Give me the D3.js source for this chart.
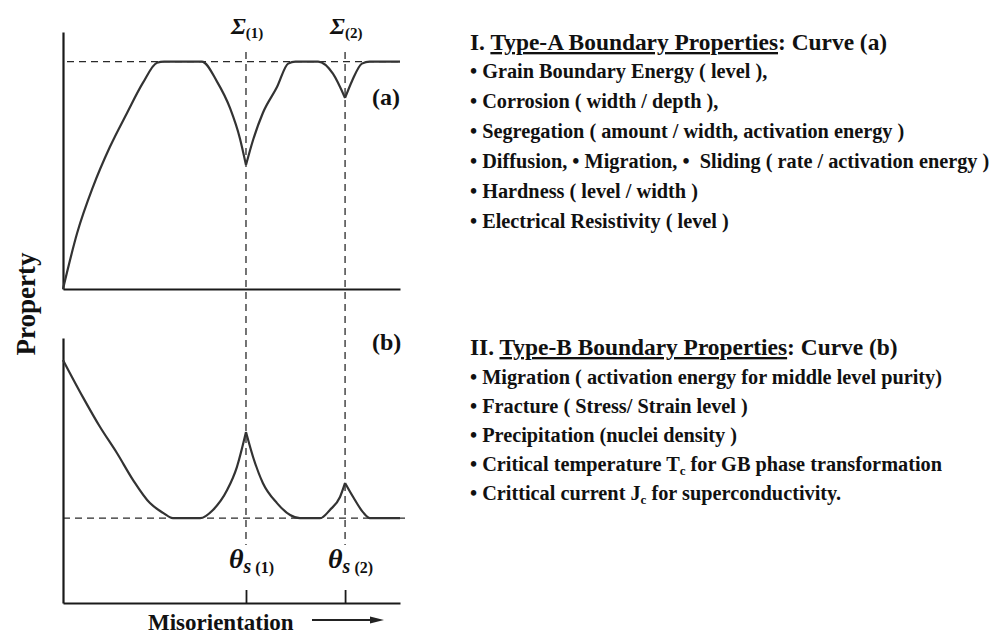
<!DOCTYPE html>
<html>
<head>
<meta charset="utf-8">
<script src="https://cdn.jsdelivr.net/npm/d3@7/dist/d3.min.js"></script>
<style>
  html, body { margin: 0; padding: 0; background: #fff; }
  svg { display: block; }
  text { font-family: "Liberation Serif", "Times New Roman", serif; font-weight: bold; fill: #111; white-space: pre; }
</style>
</head>
<body>
<script>
// ---------------- DATA ----------------
// Misorientation (arbitrary units 0..100), property (arbitrary units)
const sigmaPositions = [54.3, 83.7];
const sigmaLabels = ["(1)", "(2)"];
const thetaLabels = ["(1)", "(2)"];

// Curve (a): Type-A boundary property vs misorientation (cusps at sigma positions)
const curveAx = [0, 4.2, 8.9, 13.9, 19.0, 23.7, 27.9, 30, 41.2, 45.7, 49.6, 52.5, 54.3,
                 56.4, 59.3, 63.5, 66.8, 69, 75.7, 80.1, 83.7, 85.8, 88.7, 91, 100];
const curveAy = [0, 24.6, 44.9, 62.4, 77.4, 90.6, 99.5, 100, 100, 91.2, 79.4, 66.2, 54.5,
                 65.5, 77.4, 88.8, 99.1, 100, 100, 94.7, 84, 91.6, 99.1, 100, 100];
const levelA = 100;

// Curve (b): Type-B boundary property vs misorientation (peaks at sigma positions)
const curveBx = [0, 5.9, 11.0, 16.0, 20.8, 25.8, 29.7, 32.6, 40.7, 44.5, 48.7, 51.6, 54.3,
                 56.4, 59.3, 63.5, 67.4, 70.3, 76.3, 79.2, 82.2, 83.7, 86.1, 89.0, 91.1, 100];
const curveBy = [91.7, 77.7, 66.4, 56.6, 46.4, 37.7, 34.0, 32, 32, 35.1, 42.6, 51.3, 64.5,
                 55.1, 45.3, 37.7, 33.2, 32, 32, 35.1, 40, 45.3, 40, 34.3, 32, 32];
const levelB = 32;

const headerA = ["I. ", "Type-A Boundary Properties", ": Curve (a)"];
const itemsA = [
  "• Grain Boundary Energy ( level ),",
  "• Corrosion ( width / depth ),",
  "• Segregation ( amount / width, activation energy )",
  "• Diffusion, • Migration, •  Sliding ( rate / activation energy )",
  "• Hardness ( level / width )",
  "• Electrical Resistivity ( level )"
];
const headerB = ["II. ", "Type-B Boundary Properties", ": Curve (b)"];
const itemsB = [
  ["• Migration ( activation energy for middle level purity)"],
  ["• Fracture ( Stress/ Strain level )"],
  ["• Precipitation (nuclei density )"],
  ["• Critical temperature T", "c", " for GB phase transformation"],
  ["• Crittical current J", "c", " for superconductivity."]
];

// ---------------- DRAW ----------------
const W = 1001, H = 636;
const svg = d3.select("body").append("svg").attr("width", W).attr("height", H);

const x = d3.scaleLinear().domain([0, 100]).range([63, 400]);
const yA = d3.scaleLinear().domain([0, 113]).range([289, 32]);
const yB = d3.scaleLinear().domain([0, 100]).range([603, 338]);

const ink = "#2a2a2a";

function segments(xs, ys, cusps) {
  const pts = xs.map((v, i) => [v, ys[i]]);
  const segs = [];
  let cur = [];
  pts.forEach(p => {
    cur.push(p);
    if (cusps.some(c => Math.abs(c - p[0]) < 1e-6)) { segs.push(cur); cur = [p]; }
  });
  if (cur.length > 1) segs.push(cur);
  return segs;
}

// vertical dashed guide lines at sigma positions
svg.selectAll(".vguide").data(sigmaPositions).join("line")
  .attr("x1", d => x(d)).attr("x2", d => x(d))
  .attr("y1", 52).attr("y2", 545)
  .attr("stroke", ink).attr("stroke-width", 1.3).attr("stroke-dasharray", "7,5");

// horizontal dashed levels
svg.append("line").attr("x1", 67).attr("x2", x(100)).attr("y1", yA(levelA)).attr("y2", yA(levelA))
  .attr("stroke", ink).attr("stroke-width", 1.3).attr("stroke-dasharray", "7,5");
svg.append("line").attr("x1", 63).attr("x2", x(100) + 5).attr("y1", yB(levelB)).attr("y2", yB(levelB))
  .attr("stroke", ink).attr("stroke-width", 1.3).attr("stroke-dasharray", "7,5");

// axes
const axA_x = svg.append("g").attr("transform", `translate(0,${yA(0)})`)
  .call(d3.axisBottom(x).tickValues([]).tickSizeOuter(0));
const axA_y = svg.append("g").attr("transform", `translate(${x(0)},0)`)
  .call(d3.axisLeft(yA).tickValues([]).tickSizeOuter(0));
const axB_x = svg.append("g").attr("transform", `translate(0,${yB(0)})`)
  .call(d3.axisBottom(x).tickValues(sigmaPositions).tickSizeInner(-13).tickSizeOuter(0).tickFormat(""));
const axB_y = svg.append("g").attr("transform", `translate(${x(0)},0)`)
  .call(d3.axisLeft(yB).tickValues([]).tickSizeOuter(0));
[axA_x, axA_y, axB_x, axB_y].forEach(g => {
  g.selectAll("path.domain").attr("stroke", "#1a1a1a").attr("stroke-width", 2.2);
  g.selectAll(".tick line").attr("stroke", "#1a1a1a").attr("stroke-width", 1.8);
});

// curves
const lineA = d3.line().x(d => x(d[0])).y(d => yA(d[1])).curve(d3.curveMonotoneX);
const lineB = d3.line().x(d => x(d[0])).y(d => yB(d[1])).curve(d3.curveMonotoneX);
svg.selectAll(".ca").data(segments(curveAx, curveAy, sigmaPositions)).join("path")
  .attr("d", lineA).attr("fill", "none").attr("stroke", "#333").attr("stroke-width", 2.2)
  .attr("stroke-linejoin", "round");
svg.selectAll(".cb").data(segments(curveBx, curveBy, sigmaPositions)).join("path")
  .attr("d", lineB).attr("fill", "none").attr("stroke", "#333").attr("stroke-width", 2.2)
  .attr("stroke-linejoin", "round");

// sigma labels
sigmaPositions.forEach((s, i) => {
  const t = svg.append("text").attr("x", x(s) - 15).attr("y", 34).style("font-size", "24px");
  t.append("tspan").text("Σ").style("font-style", "italic");
  t.append("tspan").text(sigmaLabels[i]).attr("dy", 4).style("font-size", "15px");
});
// theta labels
sigmaPositions.forEach((s, i) => {
  const t = svg.append("text").attr("x", x(s) - 17).attr("y", 568).style("font-size", "28px");
  t.append("tspan").text("θ").style("font-style", "italic");
  t.append("tspan").text("s").style("font-style", "italic").attr("dy", 5).style("font-size", "20px");
  t.append("tspan").text(" " + thetaLabels[i]).style("font-size", "16px");
});

// panel labels
svg.append("text").attr("x", 372).attr("y", 105).style("font-size", "24px").text("(a)");
svg.append("text").attr("x", 372).attr("y", 350).style("font-size", "24px").text("(b)");

// axis titles
svg.append("text").attr("transform", "translate(35,304) rotate(-90)").attr("text-anchor", "middle")
  .style("font-size", "27px").text("Property");
svg.append("text").attr("x", 148).attr("y", 630).style("font-size", "23px").text("Misorientation");
svg.append("line").attr("x1", 312).attr("x2", 372).attr("y1", 620).attr("y2", 620)
  .attr("stroke", "#222").attr("stroke-width", 2);
svg.append("path").attr("d", d3.line()([[370, 616.5], [384, 620], [370, 623.5]]) + "Z").attr("fill", "#222");

// right-side text
function header(parts, xx, y) {
  const t = svg.append("text").attr("x", xx).attr("y", y).style("font-size", "23.4px");
  t.append("tspan").text(parts[0]);
  t.append("tspan").text(parts[1]).style("text-decoration", "underline");
  t.append("tspan").text(parts[2]);
}
header(headerA, 470, 50);
itemsA.forEach((s, i) => {
  svg.append("text").attr("x", 470).attr("y", 78 + i * 30).style("font-size", "20.3px").text(s);
});
header(headerB, 470, 355);
itemsB.forEach((parts, i) => {
  const t = svg.append("text").attr("x", 470).attr("y", 384 + i * 29).style("font-size", "20.3px");
  t.append("tspan").text(parts[0]);
  if (parts.length > 1) {
    t.append("tspan").text(parts[1]).attr("dy", 4).style("font-size", "13px");
    t.append("tspan").text(parts[2]).attr("dy", -4);
  }
});
</script>
</body>
</html>
